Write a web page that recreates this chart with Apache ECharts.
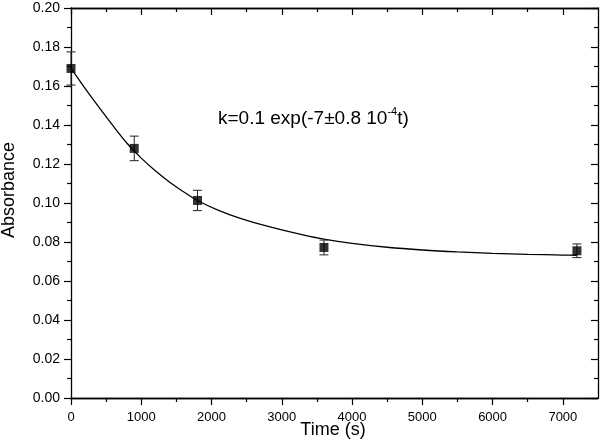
<!DOCTYPE html>
<html>
<head>
<meta charset="utf-8">
<script src="https://cdn.jsdelivr.net/npm/echarts@6/dist/echarts.min.js"></script>
<style>html,body{margin:0;padding:0;background:#fff}#c{width:600px;height:444px}</style>
</head>
<body>
<div id="c"></div>
<script>
// Measured points: time (s), absorbance, error
var times = [0, 900, 1800, 3600, 7200];
var absorbance = [0.169, 0.128, 0.1013, 0.0772, 0.0755];
var errors = [0.0085, 0.0063, 0.0052, 0.0038, 0.0035];

// Fitted curve
var fitTimes = [0, 200, 400, 600, 800, 1000, 1200, 1400, 1600, 1800, 2100, 2400, 2700, 3000, 3300, 3600, 4000, 4500, 5000, 5500, 6000, 6500, 7000, 7200];
var fitValues = [0.169, 0.1588, 0.1490, 0.1395, 0.1305, 0.1230, 0.1165, 0.1108, 0.1058, 0.1013, 0.0962, 0.0922, 0.0890, 0.0862, 0.0837, 0.0815, 0.0793, 0.0773, 0.0759, 0.0749, 0.0742, 0.0737, 0.0733, 0.0732];

var xMajor = [0, 1000, 2000, 3000, 4000, 5000, 6000, 7000];
var xMinor = [500, 1500, 2500, 3500, 4500, 5500, 6500];

var annotation = 'k=0.1 exp(-7±0.8 10';
var annotationSup = '-4';
var annotationEnd = 't)';
var xTitle = 'Time (s)';
var yTitle = 'Absorbance';

var pts = times.map(function (t, i) { return [t, absorbance[i]]; });
var errData = times.map(function (t, i) { return [t, absorbance[i], errors[i]]; });
var fit = fitTimes.map(function (t, i) { return [t, fitValues[i]]; });

var axisLine = { show: true, onZero: false, lineStyle: { color: '#000', width: 1.3 } };
var font = 'Arial, "Liberation Sans", sans-serif';

function xAx(pos, labels, tickVals, len, inside) {
  return {
    type: 'value', position: pos, min: 0, max: 7500,
    axisLine: axisLine,
    splitLine: { show: false },
    axisTick: { show: true, inside: inside, length: len, customValues: tickVals, lineStyle: { color: '#000', width: 1.2 } },
    axisLabel: labels ? { show: true, customValues: xMajor, color: '#000', fontSize: 13, fontFamily: font, margin: 13, formatter: function (v) { return String(v); } } : { show: false }
  };
}
function yAx(pos, labels, inside) {
  return {
    type: 'value', position: pos, min: 0, max: 0.2, interval: 0.02,
    axisLine: axisLine,
    splitLine: { show: false },
    axisTick: { show: true, inside: inside, length: 7, lineStyle: { color: '#000', width: 1.2 } },
    minorTick: { show: true, splitNumber: 2, length: 4, lineStyle: { color: '#000', width: 1.2 } },
    axisLabel: labels ? { show: true, color: '#000', fontSize: 14, fontFamily: font, margin: 11, formatter: function (v) { return v.toFixed(2); } } : { show: false }
  };
}

var chart = echarts.init(document.getElementById('c'), null, { renderer: 'canvas' });
chart.setOption({
  animation: false,
  backgroundColor: '#fff',
  grid: { left: 71, right: 2, top: 8, bottom: 46 },
  xAxis: [
    xAx('bottom', true, xMajor, 7, false),
    xAx('bottom', false, xMinor, 4, false),
    xAx('top', false, xMajor, 7, true),
    xAx('top', false, xMinor, 4, true)
  ],
  yAxis: [
    yAx('left', true, false),
    yAx('right', false, true)
  ],
  graphic: [
    {
      type: 'text', left: 218, top: 104,
      style: {
        text: '{a|' + annotation + '}{s|' + annotationSup + '}{a|' + annotationEnd + '}',
        rich: {
          a: { fontSize: 19, fontFamily: font, fill: '#000', lineHeight: 24, verticalAlign: 'bottom' },
          s: { fontSize: 11, fontFamily: font, fill: '#000', lineHeight: 24, verticalAlign: 'top', padding: [2, 0, 0, 0] }
        }
      }
    },
    {
      type: 'text', x: 333, y: 430,
      style: { text: xTitle, fontSize: 18, fontFamily: font, fill: '#000', textAlign: 'center', textVerticalAlign: 'middle' }
    },
    {
      type: 'text', x: 9, y: 190, rotation: Math.PI / 2,
      style: { text: yTitle, fontSize: 18, fontFamily: font, fill: '#000', textAlign: 'center', textVerticalAlign: 'middle' }
    }
  ],
  series: [
    {
      type: 'line', data: fit, smooth: 0.3, showSymbol: false, symbol: 'none',
      lineStyle: { color: '#000', width: 1.3 }, z: 2
    },
    {
      type: 'custom', data: errData, z: 3,
      renderItem: function (params, api) {
        var x = api.value(0), y = api.value(1), e = api.value(2);
        var top = api.coord([x, y + e]);
        var bot = api.coord([x, y - e]);
        var hw = 4.5;
        var st = { stroke: '#222', lineWidth: 1 };
        return {
          type: 'group',
          children: [
            { type: 'line', shape: { x1: top[0], y1: top[1], x2: bot[0], y2: bot[1] }, style: st },
            { type: 'line', shape: { x1: top[0] - hw, y1: top[1], x2: top[0] + hw, y2: top[1] }, style: st },
            { type: 'line', shape: { x1: bot[0] - hw, y1: bot[1], x2: bot[0] + hw, y2: bot[1] }, style: st }
          ]
        };
      }
    },
    {
      type: 'scatter', data: pts, symbol: 'rect', symbolSize: 9,
      itemStyle: { color: '#000' }, z: 4
    }
  ]
});
</script>
</body>
</html>
